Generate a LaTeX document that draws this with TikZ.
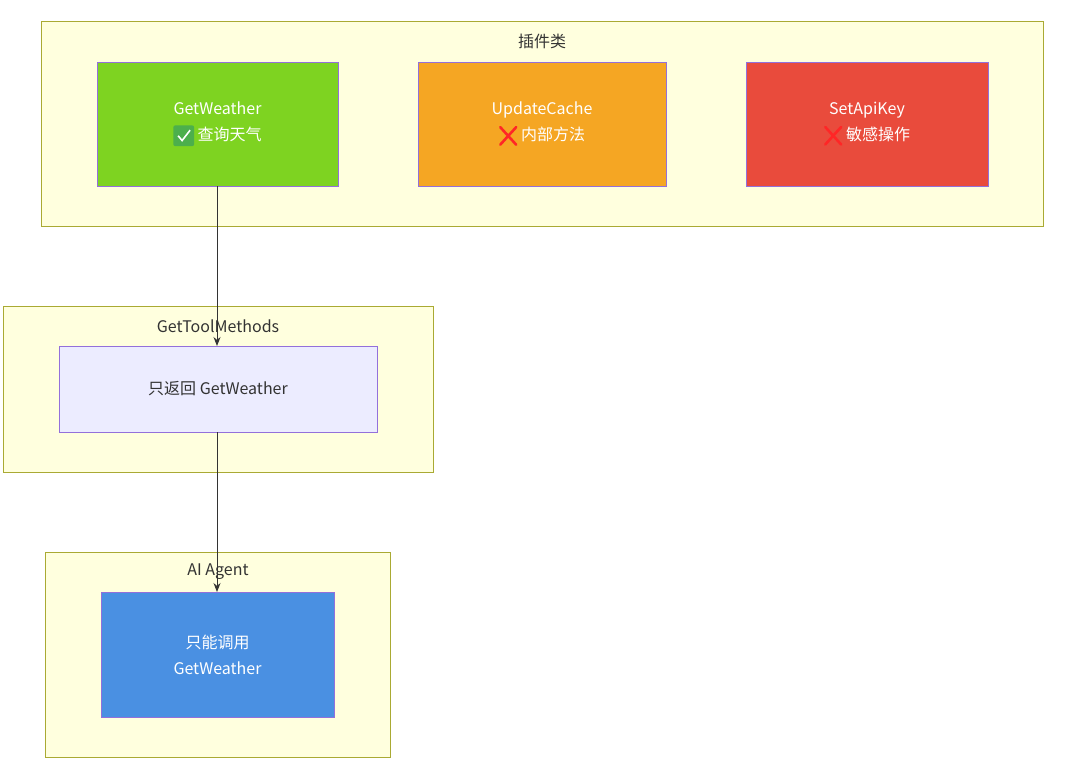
\documentclass[tikz,border=0pt]{standalone}
\usepackage{fontspec}
\setmainfont{Noto Sans CJK SC}
\usetikzlibrary{arrows.meta}
\definecolor{clfill}{HTML}{FFFFDE}
\definecolor{cledge}{HTML}{AAAA33}
\definecolor{ndedge}{HTML}{9370DB}
\definecolor{okgreen}{HTML}{7ED321}
\definecolor{warnorange}{HTML}{F5A623}
\definecolor{dangerred}{HTML}{E94B3C}
\definecolor{listfill}{HTML}{ECECFF}
\definecolor{agentblue}{HTML}{4A90E2}
\definecolor{txt}{HTML}{333333}
\newcommand{\okmark}{\tikz[baseline=-0.35em]{\fill[green!55!black!70,rounded corners=2pt] (0,-0.7em) rectangle (1.3em,0.6em);\draw[white,line width=1.6pt] (0.3em,-0.05em) -- (0.55em,-0.35em) -- (1.05em,0.3em);}}
\newcommand{\nomark}{\tikz[baseline=-0.35em]{\draw[red!80!pink,line width=2.6pt,line cap=round] (0.1em,-0.6em) -- (1.1em,0.5em) (0.1em,0.5em) -- (1.1em,-0.6em);}}
\begin{document}
\begin{tikzpicture}[x=1pt,y=-1pt,
  cluster/.style={draw=cledge, fill=clfill, line width=0.8pt},
  method/.style={draw=ndedge, line width=0.8pt},
  flow/.style={-{Stealth[length=9pt,width=7pt]}, draw=txt, line width=1pt}]
    \useasboundingbox (0,0) rectangle (1080,776);
    % Clusters
    \draw[cluster] (41,21) rectangle (1043,226);
    \node[txt, font=\fontsize{16}{18}\selectfont] (plugtitle) at (542,41) {插件类};
    \draw[cluster] (3,306) rectangle (433,472);
    \node[txt, font=\fontsize{16}{18}\selectfont] (tooltitle) at (218,326) {GetToolMethods};
    \draw[cluster] (45,552) rectangle (390,757);
    \node[txt, font=\fontsize{16}{18}\selectfont] (agenttitle) at (218,572) {AI Agent};

    % Plugin methods
    \draw[method, fill=okgreen] (97,62) rectangle (338,186);
    \node[white, align=center, font=\fontsize{16}{26}\selectfont] (weather) at (217.5,124) {GetWeather\\\okmark\ 查询天气};
    \draw[method, fill=warnorange] (418,62) rectangle (666,186);
    \node[white, align=center, font=\fontsize{16}{26}\selectfont] (cache) at (542,124) {UpdateCache\\\nomark\ 内部方法};
    \draw[method, fill=dangerred] (746,62) rectangle (988,186);
    \node[white, align=center, font=\fontsize{16}{26}\selectfont] (apikey) at (867,124) {SetApiKey\\\nomark\ 敏感操作};

    % Filtered list and agent
    \draw[method, fill=listfill] (59,346) rectangle (377,432);
    \node[txt, font=\fontsize{16}{18}\selectfont] (list) at (218,389) {只返回 GetWeather};
    \draw[method, fill=agentblue] (101,592) rectangle (334,717);
    \node[white, align=center, font=\fontsize{16}{26}\selectfont] (agent) at (217.5,655) {只能调用\\GetWeather};

    \coordinate (wb) at (217,186);
    \coordinate (lt) at (217,346);
    \coordinate (lb) at (217,432);
    \coordinate (at) at (217,592);
    \draw[flow] (wb) -- (lt);
    \draw[flow] (lb) -- (at);
\end{tikzpicture}
\end{document}
